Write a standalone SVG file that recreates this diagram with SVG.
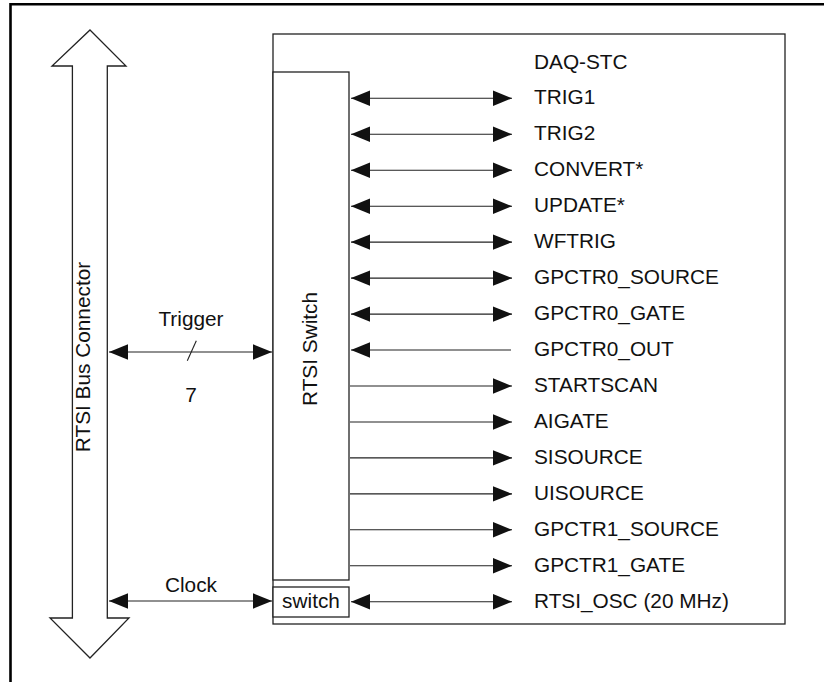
<svg xmlns="http://www.w3.org/2000/svg" width="824" height="682" viewBox="0 0 824 682">
<defs>
<style>
.t{font-family:"Liberation Sans",Arial,sans-serif;font-size:20.8px;fill:#111}
.box{fill:#fff;stroke:#222;stroke-width:1.3}
.ln{fill:none;stroke:#222;stroke-width:1.1}
</style>
<marker id="ah" viewBox="0 0 19 16" refX="19" refY="8" markerWidth="19" markerHeight="16" markerUnits="userSpaceOnUse" orient="auto-start-reverse">
<path d="M0,0.3 L19,8 L0,15.7 Z" fill="#111"/>
</marker>
</defs>
<rect width="824" height="682" fill="#fff"/>
<g id="frame"><path d="M10.5,682 V4.3 H824" fill="none" stroke="#000" stroke-width="2.6"/></g>
<g id="rtsi-bus-connector">
<polygon class="box" stroke-width="1.1" points="90,30 126,66 107.3,66 107.3,618 129,618 90,658 50,618 72.4,618 72.4,66 52,66"/>
<text class="t" transform="translate(89.5,357) rotate(-90)" text-anchor="middle">RTSI Bus Connector</text>
</g>
<g id="daq-stc">
<rect class="box" x="273" y="34" width="512" height="590"/>
<text class="t" x="534" y="68.5">DAQ-STC</text>
</g>
<g id="rtsi-switch">
<rect class="box" x="273" y="72" width="76" height="508"/>
<text class="t" transform="translate(316.7,349) rotate(-90)" text-anchor="middle">RTSI Switch</text>
</g>
<g id="switch">
<rect class="box" x="273" y="587" width="76" height="30"/>
<text class="t" x="311" y="608.3" text-anchor="middle">switch</text>
</g>
<g id="connectors">
<line class="ln" x1="109" y1="352" x2="272" y2="352" marker-start="url(#ah)" marker-end="url(#ah)"/>
<line class="ln" x1="196.3" y1="340.7" x2="187.3" y2="360.7"/>
<line class="ln" x1="109" y1="601" x2="272" y2="601" marker-start="url(#ah)" marker-end="url(#ah)"/>
<line class="ln" x1="351" y1="98.3" x2="512" y2="98.3" marker-start="url(#ah)" marker-end="url(#ah)"/>
<line class="ln" x1="351" y1="134.3" x2="512" y2="134.3" marker-start="url(#ah)" marker-end="url(#ah)"/>
<line class="ln" x1="351" y1="170.2" x2="512" y2="170.2" marker-start="url(#ah)" marker-end="url(#ah)"/>
<line class="ln" x1="351" y1="206.2" x2="512" y2="206.2" marker-start="url(#ah)" marker-end="url(#ah)"/>
<line class="ln" x1="351" y1="242.1" x2="512" y2="242.1" marker-start="url(#ah)" marker-end="url(#ah)"/>
<line class="ln" x1="351" y1="278.1" x2="512" y2="278.1" marker-start="url(#ah)" marker-end="url(#ah)"/>
<line class="ln" x1="351" y1="314.1" x2="512" y2="314.1" marker-start="url(#ah)" marker-end="url(#ah)"/>
<line class="ln" x1="351" y1="350" x2="511" y2="350" marker-start="url(#ah)"/>
<line class="ln" x1="350" y1="386" x2="512" y2="386" marker-end="url(#ah)"/>
<line class="ln" x1="350" y1="422" x2="512" y2="422" marker-end="url(#ah)"/>
<line class="ln" x1="350" y1="457.9" x2="512" y2="457.9" marker-end="url(#ah)"/>
<line class="ln" x1="350" y1="493.9" x2="512" y2="493.9" marker-end="url(#ah)"/>
<line class="ln" x1="350" y1="529.8" x2="512" y2="529.8" marker-end="url(#ah)"/>
<line class="ln" x1="350" y1="565.8" x2="512" y2="565.8" marker-end="url(#ah)"/>
<line class="ln" x1="351" y1="601.7" x2="512" y2="601.7" marker-start="url(#ah)" marker-end="url(#ah)"/>
</g>
<g id="labels">
<text class="t" x="191" y="325.7" text-anchor="middle">Trigger</text>
<text class="t" x="191" y="402" text-anchor="middle">7</text>
<text class="t" x="191" y="591.7" text-anchor="middle">Clock</text>
<text class="t" x="534" y="104.3">TRIG1</text>
<text class="t" x="534" y="140.3">TRIG2</text>
<text class="t" x="534" y="176.2">CONVERT*</text>
<text class="t" x="534" y="212.2">UPDATE*</text>
<text class="t" x="534" y="248.1">WFTRIG</text>
<text class="t" x="534" y="284.1">GPCTR0_SOURCE</text>
<text class="t" x="534" y="320.1">GPCTR0_GATE</text>
<text class="t" x="534" y="356">GPCTR0_OUT</text>
<text class="t" x="534" y="392">STARTSCAN</text>
<text class="t" x="534" y="428">AIGATE</text>
<text class="t" x="534" y="463.9">SISOURCE</text>
<text class="t" x="534" y="499.9">UISOURCE</text>
<text class="t" x="534" y="535.8">GPCTR1_SOURCE</text>
<text class="t" x="534" y="571.8">GPCTR1_GATE</text>
<text class="t" x="534" y="607.7">RTSI_OSC (20 MHz)</text>
</g>
</svg>
